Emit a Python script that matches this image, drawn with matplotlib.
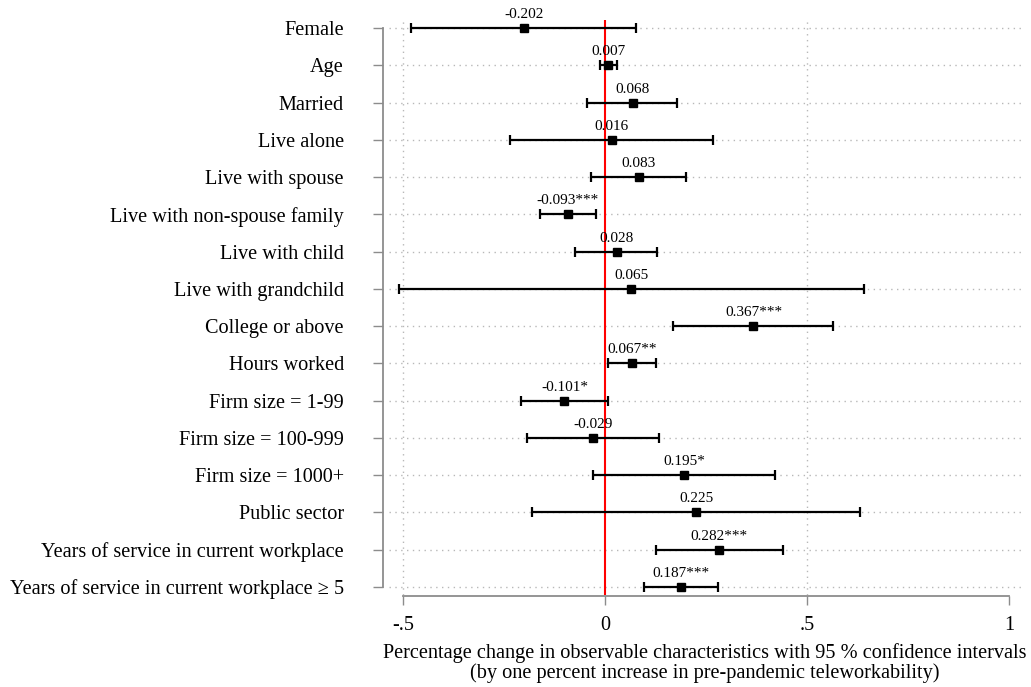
import matplotlib
matplotlib.use("Agg")
import matplotlib.pyplot as plt
import numpy as np

# Coefficient estimates with 95% confidence bounds
variables = [
    "Female", "Age", "Married", "Live alone", "Live with spouse",
    "Live with non-spouse family", "Live with child", "Live with grandchild",
    "College or above", "Hours worked", "Firm size = 1-99",
    "Firm size = 100-999", "Firm size = 1000+", "Public sector",
    "Years of service in current workplace",
    "Years of service in current workplace \u2265 5",
]
coef = [-0.202, 0.007, 0.068, 0.016, 0.083, -0.093, 0.028, 0.065,
        0.367, 0.067, -0.101, -0.029, 0.195, 0.225, 0.282, 0.187]
ci_low = [-0.481, -0.013, -0.045, -0.236, -0.035, -0.162, -0.074, -0.510,
          0.167, 0.007, -0.209, -0.193, -0.031, -0.181, 0.126, 0.096]
ci_high = [0.076, 0.028, 0.178, 0.266, 0.200, -0.023, 0.129, 0.640,
           0.564, 0.126, 0.007, 0.132, 0.421, 0.630, 0.439, 0.279]
stars = ["", "", "", "", "", "***", "", "", "***", "**", "*", "", "*", "",
         "***", "***"]
xticks = [-0.5, 0, 0.5, 1]
xtick_labels = ["-.5", "0", ".5", "1"]

plt.rcParams["font.family"] = ["Liberation Serif", "DejaVu Serif"]

fig = plt.figure(figsize=(10.31, 6.87), dpi=100)
ax = fig.add_axes([389 / 1031, 1 - 595 / 687, 632 / 1031, 575 / 687])

n = len(variables)
y = np.arange(n)
coef_a = np.array(coef)
err = np.vstack([coef_a - np.array(ci_low), np.array(ci_high) - coef_a])

grid_col = "#b8b8b8"
dots = (0, (1.0, 3.2))
for yi in y:
    ax.axhline(yi, color=grid_col, lw=1.0, ls=dots, zorder=0)
for xv in [-0.5, 0.5]:
    ax.axvline(xv, color=grid_col, lw=1.0, ls=dots, zorder=0)

ax.axvline(0, color="#ff0000", lw=1.5, zorder=1)

ax.errorbar(coef_a, y, xerr=err, fmt="s", color="black", ecolor="black",
            elinewidth=1.6, capsize=3.8, capthick=1.6, markersize=6,
            zorder=3)

for xi, yi, s in zip(coef, y, stars):
    ax.annotate(f"{xi:.3f}{s}", (xi, yi), xytext=(0, 5),
                textcoords="offset points", ha="center", va="bottom",
                fontsize=11)

ax.set_xlim(-0.535, 1.029)
ax.set_ylim(n - 1 + 0.22, -0.22)

ax.set_yticks(y)
ax.set_yticklabels(variables)
ax.set_xticks(xticks)
ax.set_xticklabels(xtick_labels)

spine_col = "#8c8c8c"
for side in ["top", "right"]:
    ax.spines[side].set_visible(False)
ax.spines["left"].set_position(("outward", 4.3))
ax.spines["left"].set_bounds(0, n - 1)
ax.spines["bottom"].set_position(("outward", 0.8))
ax.spines["bottom"].set_bounds(-0.5, 1)
for side in ["left", "bottom"]:
    ax.spines[side].set_color(spine_col)
    ax.spines[side].set_linewidth(1.3)

ax.tick_params(axis="y", length=7.2, width=1.0, color=spine_col, pad=21,
               labelsize=14.6)
ax.tick_params(axis="x", length=6.5, width=1.0, color=spine_col, pad=7.5,
               labelsize=14.6)

ax.set_xlabel("Percentage change in observable characteristics with 95 % "
              "confidence intervals\n(by one percent increase in "
              "pre-pandemic teleworkability)", fontsize=14.6,
              linespacing=1.0, labelpad=6)

fig.savefig("out.png", dpi=100)
